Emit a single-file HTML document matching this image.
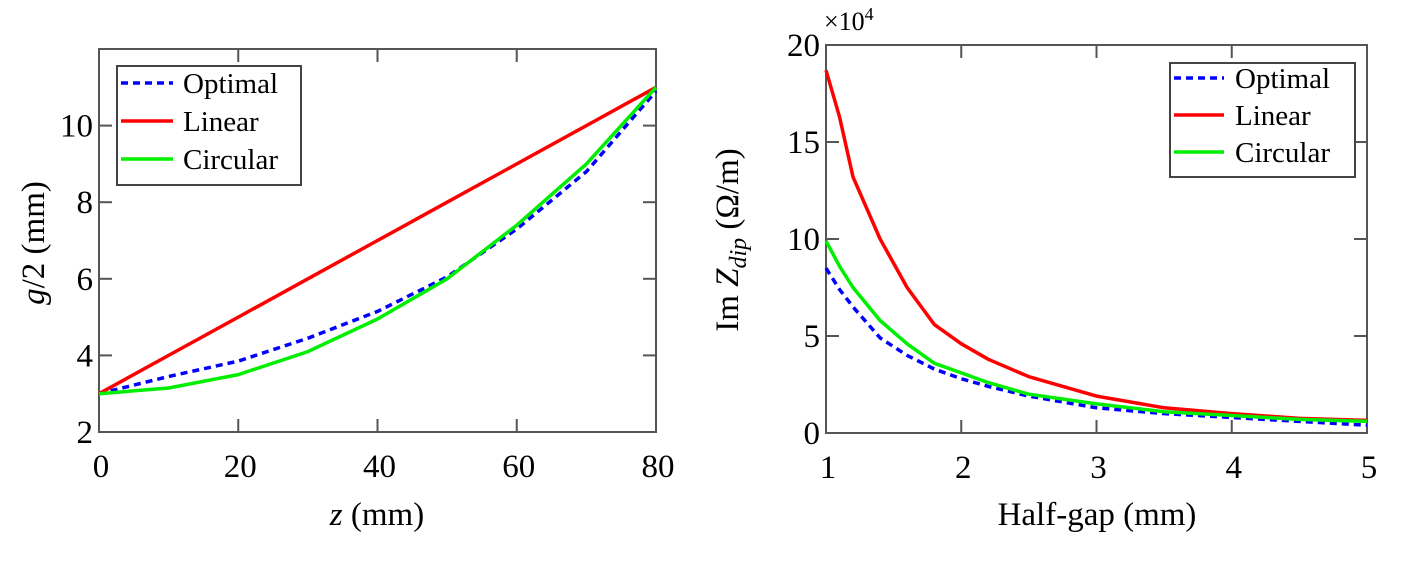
<!DOCTYPE html>
<html><head><meta charset="utf-8"><style>
html,body{margin:0;padding:0;background:#fff;}
svg text{font-family:"Liberation Serif",serif;fill:#000;}
</style></head><body>
<svg id="fig" width="1407" height="561" xmlns="http://www.w3.org/2000/svg"></svg>
<script>
// Left chart data
const leftZ = [0,10,20,30,40,50,60,70,80];
const leftLinear = [3,4,5,6,7,8,9,10,11];
const leftCircular = [3,3.15,3.5,4.1,4.95,6.0,7.4,9.0,11];
const leftOptimal = [3,3.45,3.85,4.45,5.15,6.05,7.3,8.8,10.9];
const leftXTicks = [0,20,40,60,80];
const leftYTicks = [2,4,6,8,10];
// Right chart data
const rightX = [1,1.1,1.2,1.4,1.6,1.8,2,2.2,2.5,3,3.5,4,4.5,5];
const rightLinear = [18.7,16.3,13.2,10,7.5,5.6,4.6,3.8,2.9,1.9,1.3,1.0,0.75,0.65];
const rightCircular = [9.9,8.6,7.5,5.8,4.6,3.6,3.1,2.6,2.0,1.5,1.1,0.9,0.7,0.6];
const rightOptimal = [8.5,7.4,6.5,4.9,4.0,3.3,2.8,2.4,1.9,1.3,1.0,0.8,0.6,0.4];
const rightXTicks = [1,2,3,4,5];
const rightYTicks = [0,5,10,15,20];

const NS="http://www.w3.org/2000/svg";
const svg=document.getElementById('fig');
function el(tag,attrs,parent){const e=document.createElementNS(NS,tag);for(const k in attrs)e.setAttribute(k,attrs[k]);(parent||svg).appendChild(e);return e;}

function drawChart(o){
  const g=el('g',{});
  
  
  const sx=v=>o.x0+(v-o.xmin)/(o.xmax-o.xmin)*(o.x1-o.x0);
  const sy=v=>o.y1-(v-o.ymin)/(o.ymax-o.ymin)*(o.y1-o.y0);
  const frame=el('rect',{x:o.x0,y:o.y0,width:o.x1-o.x0,height:o.y1-o.y0,fill:'none',stroke:'#555','stroke-width':2},g);
  
  
  o.xt.forEach(v=>{
    const x=sx(v);
    if(v!==o.xmin&&v!==o.xmax){
      el('line',{x1:x,x2:x,y1:o.y1,y2:o.y1-13,stroke:'#555','stroke-width':2},g);
      el('line',{x1:x,x2:x,y1:o.y0,y2:o.y0+13,stroke:'#555','stroke-width':2},g);
    }
    const t=el('text',{x:x+2,y:o.y1+45,'font-size':33,'text-anchor':'middle'},g);
    t.textContent=v;
    
    
  });
  o.yt.forEach(v=>{
    const y=sy(v);
    if(v!==o.ymin&&v!==o.ymax){
      el('line',{x1:o.x0,x2:o.x0+13,y1:y,y2:y,stroke:'#555','stroke-width':2},g);
      el('line',{x1:o.x1,x2:o.x1-13,y1:y,y2:y,stroke:'#555','stroke-width':2},g);
    }
    const t=el('text',{x:o.x0-6,y:y+11,'font-size':33,'text-anchor':'end'},g);
    t.textContent=v;
    
    
  });
  o.series.forEach(s=>{
    const d=s.xs.map((x,i)=>(i?'L':'M')+sx(x).toFixed(1)+','+sy(s.ys[i]).toFixed(1)).join(' ');
    const p=el('path',{d:d,fill:'none',stroke:s.color,'stroke-width':3.5,'stroke-dasharray':s.dash||'none','stroke-linejoin':'round'},g);
    
    
  });
  // legend
  const L=o.legend;
  const lg=el('g',{},g);
  
  
  el('rect',{x:L.x,y:L.y,width:L.w,height:L.h,fill:'#fff',stroke:'#444','stroke-width':2},lg);
  o.series.forEach((s,i)=>{
    const yy=L.y+L.first+i*L.step;
    el('line',{x1:L.x+4,x2:L.x+4+L.lw,y1:yy,y2:yy,stroke:s.color,'stroke-width':3.5,'stroke-dasharray':s.dash||'none'},lg);
    const t=el('text',{x:L.x+L.tx,y:yy+10,'font-size':29},lg);
    t.textContent=s.label;
    
    
  });
}

drawChart({name:'left-chart',x0:99,x1:656,y0:49,y1:432,xmin:0,xmax:80,ymin:2,ymax:12,xt:leftXTicks,yt:leftYTicks,
  series:[
    {name:'optimal-line',label:'Optimal',color:'#0000ff',dash:'7,5',xs:leftZ,ys:leftOptimal},
    {name:'linear-line',label:'Linear',color:'#ff0000',xs:leftZ,ys:leftLinear},
    {name:'circular-line',label:'Circular',color:'#00ee00',xs:leftZ,ys:leftCircular}],
  legend:{x:117,y:66,w:184,h:119,first:17,step:38,lw:52,tx:66}});

drawChart({name:'right-chart',x0:826,x1:1367,y0:45,y1:433,xmin:1,xmax:5,ymin:0,ymax:20,xt:rightXTicks,yt:rightYTicks,
  series:[
    {name:'optimal-line',label:'Optimal',color:'#0000ff',dash:'7,5',xs:rightX,ys:rightOptimal},
    {name:'linear-line',label:'Linear',color:'#ff0000',xs:rightX,ys:rightLinear},
    {name:'circular-line',label:'Circular',color:'#00ee00',xs:rightX,ys:rightCircular}],
  legend:{x:1170,y:63,w:185,h:114,first:15,step:37,lw:50,tx:65}});
</script>
<svg width="0" height="0"></svg>
<script>
const s2=document.getElementById('fig');
s2.insertAdjacentHTML('beforeend',
 '<text x="377" y="525" font-size="33" text-anchor="middle"><tspan font-style="italic">z</tspan> (mm)</text>'+
 '<text transform="translate(44,243) rotate(-90)" font-size="33" text-anchor="middle"><tspan font-style="italic">g</tspan>/2 (mm)</text>'+
 '<text x="1097" y="525" font-size="33" text-anchor="middle">Half-gap (mm)</text>'+
 '<text transform="translate(738,240) rotate(-90)" font-size="33" text-anchor="middle">Im <tspan font-style="italic">Z</tspan><tspan font-style="italic" font-size="24" dy="8">dip</tspan><tspan dy="-8"> (Ω/m)</tspan></text>'+
 '<text x="824" y="30" font-size="26">×10<tspan font-size="18" dy="-10">4</tspan></text>');
</script>
</body></html>
